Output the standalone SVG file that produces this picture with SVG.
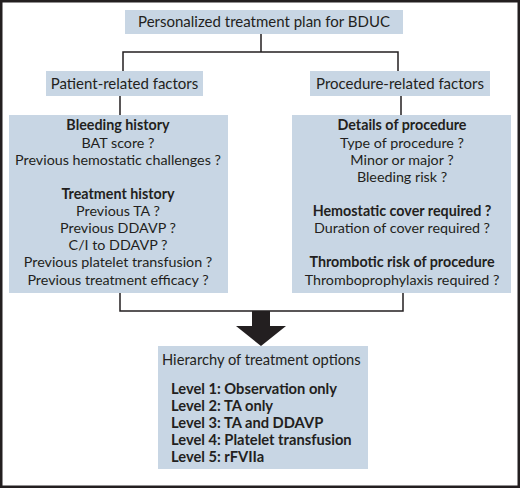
<svg xmlns="http://www.w3.org/2000/svg" width="520" height="488" viewBox="0 0 520 488">
<style>
.box{fill:#c8d6e4}
.t{font-family:Lato,"Open Sans",sans-serif;font-size:14.3px;fill:#231f20}
.k{font-family:Lato,"Open Sans",sans-serif;font-size:14.7px;fill:#231f20}
.c{text-anchor:middle}
.b{font-weight:bold}
.h{font-family:Lato,"Open Sans",sans-serif;font-size:15px;fill:#231f20;text-anchor:middle}
.ln{fill:none;stroke:#231f20;stroke-width:1.5}
</style>
<rect x="0" y="0" width="520" height="488" fill="#fff"/>
<rect x="1.25" y="1.25" width="517.5" height="485.5" fill="none" stroke="#231f20" stroke-width="2.5"/>
<g id="connectors">
<path class="ln" d="M261,34 V52 M123,71 V52 H398 V71"/>
<path class="ln" d="M120,96 V115 M401,96 V115"/>
<path class="ln" d="M120,293 V311 H403 V293"/>
<polygon points="252,311 270,311 270,326 286,326 261,346 236,326 252,326" fill="#231f20"/>
</g>
<g id="top">
<rect class="box" x="125" y="10" width="278" height="24"/>
<text class="h" x="264" y="27">Personalized treatment plan for BDUC</text>
</g>
<g id="patient">
<rect class="box" x="46" y="71" width="157" height="25"/>
<text class="h" x="124.5" y="88.5">Patient-related factors</text>
</g>
<g id="procedure">
<rect class="box" x="310" y="71" width="180" height="25"/>
<text class="h" x="400" y="88.5">Procedure-related factors</text>
</g>
<g id="patient-details">
<rect class="box" x="9" y="115" width="219" height="178"/>
<text class="t c b" x="118" y="130">Bleeding history</text>
<text class="t c" x="118" y="148">BAT score ?</text>
<text class="t c" x="118" y="165">Previous hemostatic challenges ?</text>
<text class="t c b" x="118" y="199">Treatment history</text>
<text class="t c" x="118" y="216">Previous TA ?</text>
<text class="t c" x="118" y="233">Previous DDAVP ?</text>
<text class="t c" x="118" y="250">C/I to DDAVP ?</text>
<text class="t c" x="118" y="267">Previous platelet transfusion ?</text>
<text class="t c" x="118" y="285">Previous treatment efficacy ?</text>
</g>
<g id="procedure-details">
<rect class="box" x="292" y="115" width="219" height="178"/>
<text class="t c b" x="402" y="130">Details of procedure</text>
<text class="t c" x="402" y="148">Type of procedure ?</text>
<text class="t c" x="402" y="165">Minor or major ?</text>
<text class="t c" x="402" y="182">Bleeding risk ?</text>
<text class="t c b" x="402" y="216">Hemostatic cover required ?</text>
<text class="t c" x="402" y="233">Duration of cover required ?</text>
<text class="t c b" x="402" y="267">Thrombotic risk of procedure</text>
<text class="t c" x="402" y="285">Thromboprophylaxis required ?</text>
</g>
<g id="hierarchy">
<rect class="box" x="158" y="346" width="210" height="123"/>
<text class="k" x="162" y="365">Hierarchy of treatment options</text>
<text class="k b" x="171" y="394">Level 1: Observation only</text>
<text class="k b" x="171" y="411">Level 2: TA only</text>
<text class="k b" x="171" y="428">Level 3: TA and DDAVP</text>
<text class="k b" x="171" y="445">Level 4: Platelet transfusion</text>
<text class="k b" x="171" y="462">Level 5: rFVIIa</text>
</g>
</svg>
